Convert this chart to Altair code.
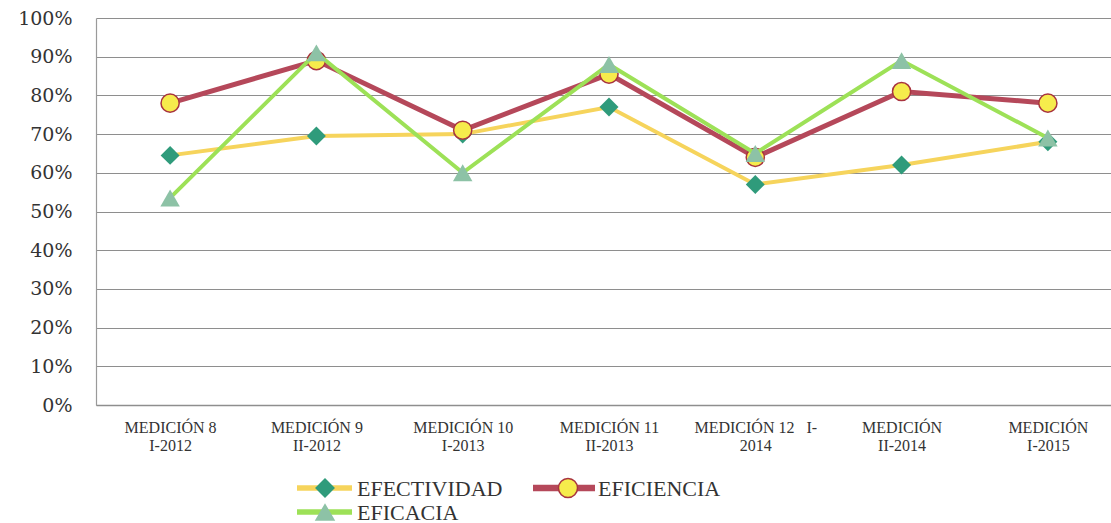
import altair as alt
import pandas as pd

# Measurement periods (two-line axis labels) and the three indicators, in percent
categorias = [
    "MEDICIÓN 8\nI-2012",
    "MEDICIÓN 9\nII-2012",
    "MEDICIÓN 10\nI-2013",
    "MEDICIÓN 11\nII-2013",
    "MEDICIÓN 12\u00a0\u00a0\u00a0I-\n2014",
    "MEDICIÓN\nII-2014",
    "MEDICIÓN\nI-2015",
]
series = ["EFECTIVIDAD", "EFICIENCIA", "EFICACIA"]
efectividad = [64.5, 69.5, 70.0, 77.0, 57.0, 62.0, 68.0]
eficiencia = [78.0, 89.0, 71.0, 85.5, 64.0, 81.0, 78.0]
eficacia = [53.5, 91.0, 60.0, 88.0, 65.0, 89.0, 69.0]
ticks_y = [0, 0.1, 0.2, 0.3, 0.4, 0.5, 0.6, 0.7, 0.8, 0.9, 1.0]

valores = {"EFECTIVIDAD": efectividad, "EFICIENCIA": eficiencia, "EFICACIA": eficacia}
rows = []
for s in series:
    for c, v in zip(categorias, valores[s]):
        rows.append({"medicion": c, "serie": s, "valor": v / 100.0})
df = pd.DataFrame(rows)

W, H = 1015, 387
TXT = "#333333"

# line colour, marker style per series
estilo = {
    "EFECTIVIDAD": dict(line="#f6d45c", lw=4, shape="diamond", fill="#2f9b7b",
                        stroke="#2f9b7b", sw=0, size=360),
    "EFICIENCIA": dict(line="#b5485a", lw=5, shape="circle", fill="#f6ec4c",
                       stroke="#a8343f", sw=1.5, size=330),
    "EFICACIA": dict(line="#9de157", lw=4, shape="triangle-up", fill="#8dc2a6",
                     stroke="#8dc2a6", sw=0, size=380),
}

x_enc = alt.X(
    "medicion:N",
    sort=categorias,
    scale=alt.Scale(type="point", padding=0.469, align=0.54),
    axis=alt.Axis(
        title=None,
        labelExpr="split(datum.label, '\\n')",
        labelAngle=0,
        labelFont="Liberation Serif",
        labelFontSize=16,
        labelLineHeight=18,
        labelColor=TXT,
        labelPadding=14,
        ticks=False,
        grid=False,
        domainColor="#8e8e8e",
        domainWidth=1.5,
    ),
)
y_enc = alt.Y(
    "valor:Q",
    scale=alt.Scale(domain=[0, 1], nice=False, zero=True),
    axis=alt.Axis(
        title=None,
        values=ticks_y,
        format="%",
        labelFont="DejaVu Serif",
        labelFontSize=19,
        labelColor=TXT,
        labelPadding=24,
        ticks=False,
        grid=True,
        gridColor="#8e8e8e",
        gridWidth=1.2,
        domainColor="#9a9a9a",
        domainWidth=1.2,
    ),
)

capas = []
for s in series:
    e = estilo[s]
    base = alt.Chart(df).transform_filter(alt.datum.serie == s)
    capas.append(
        base.mark_line(color=e["line"], strokeWidth=e["lw"]).encode(x=x_enc, y=y_enc)
    )
    capas.append(
        base.mark_point(
            shape=e["shape"], filled=True, fill=e["fill"], stroke=e["stroke"],
            strokeWidth=e["sw"], size=e["size"], opacity=1,
        ).encode(x=x_enc, y=y_enc)
    )

# legend drawn below the plot: line stub, marker and name for each series
leyenda_pos = {
    "EFECTIVIDAD": (201, 256, 229, 261, 470),
    "EFICIENCIA": (437, 499, 472, 502, 470),
    "EFICACIA": (201, 256, 229, 261, 494),
}
for s in series:
    e = estilo[s]
    x0, x1, xc, xt, yy = leyenda_pos[s]
    d = pd.DataFrame({"serie": [s]})
    capas.append(
        alt.Chart(d).mark_rule(color=e["line"], strokeWidth=e["lw"] + 1.5).encode(
            x=alt.value(x0), x2=alt.value(x1), y=alt.value(yy)
        )
    )
    capas.append(
        alt.Chart(d).mark_point(
            shape=e["shape"], filled=True, fill=e["fill"], stroke=e["stroke"],
            strokeWidth=e["sw"], size=e["size"] * 1.1, opacity=1,
        ).encode(x=alt.value(xc), y=alt.value(yy))
    )
    capas.append(
        alt.Chart(d).mark_text(
            align="left", baseline="middle", font="Liberation Serif",
            fontSize=22, color=TXT,
        ).encode(x=alt.value(xt), y=alt.value(yy + 1), text="serie:N")
    )

chart = (
    alt.layer(*capas)
    .properties(
        width=W,
        height=H,
        autosize=alt.AutoSizeParams(type="none"),
        padding={"left": 96, "top": 18, "right": 0, "bottom": 118},
        background="white",
    )
    .configure_view(stroke=None)
)

chart.save("out.html", embed_options={"renderer": "svg", "actions": False})
